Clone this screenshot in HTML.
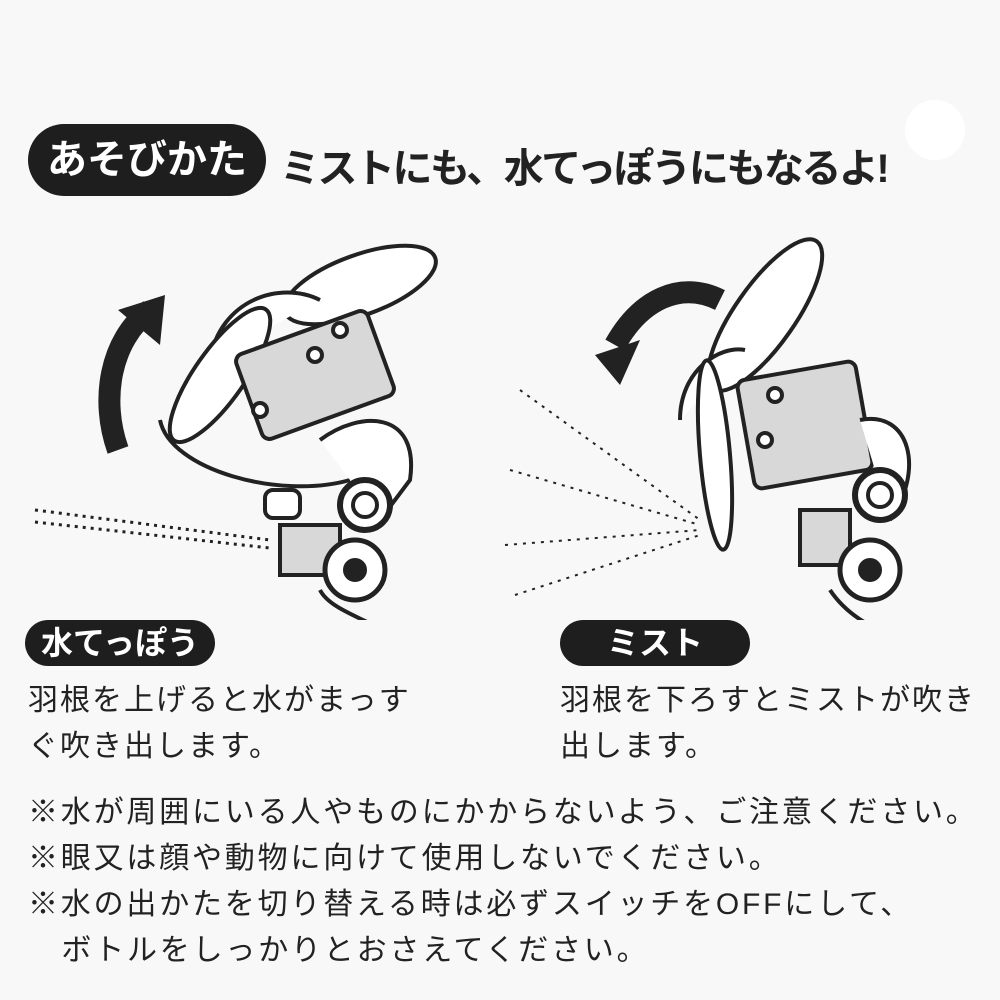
<!DOCTYPE html>
<html><head><meta charset="utf-8"><style>
html,body{margin:0;padding:0;background:#f8f8f8;}
body{width:1000px;height:1000px;position:relative;overflow:hidden;font-family:"Liberation Sans","Noto Sans CJK JP",sans-serif;color:#222;}
.pill{position:absolute;background:#1e1e1e;color:#fff;font-weight:bold;border-radius:40px;text-align:center;}
.t{position:absolute;white-space:nowrap;}
</style></head><body>
<div style="position:absolute;left:905px;top:100px;width:60px;height:60px;border-radius:50%;background:#fff;"></div>
<div class="pill" style="left:28px;top:124px;width:238px;height:72px;line-height:72px;font-size:40px;">あそびかた</div>
<div class="t" style="left:280px;top:136px;font-size:40px;font-weight:bold;letter-spacing:-2.5px;">ミストにも、水てっぽうにもなるよ!</div>

<svg width="1000" height="620" style="position:absolute;left:0;top:0" fill="none" stroke="#222" stroke-width="4">
<path d="M118 450 C100 400 110 340 150 310" stroke-width="22"/>
<polygon points="118,310 165,295 160,345" fill="#222" stroke="none"/>
<g stroke-dasharray="3 5" stroke-width="3"><line x1="35" y1="510" x2="270" y2="540"/><line x1="35" y1="522" x2="270" y2="548"/></g>
<ellipse cx="360" cy="285" rx="80" ry="30" transform="rotate(-20 360 285)" fill="#fff"/>
<path d="M210 360 C220 300 280 280 320 300" fill="#fff"/>
<ellipse cx="220" cy="375" rx="25" ry="80" transform="rotate(35 220 375)" fill="#fff"/>
<path d="M160 420 C170 470 280 500 350 480" />
<rect x="245" y="330" width="140" height="90" rx="8" transform="rotate(-20 315 375)" fill="#d8d8d8"/>
<circle cx="315" cy="355" r="7" fill="#fff"/><circle cx="340" cy="330" r="7" fill="#fff"/><circle cx="260" cy="410" r="7" fill="#fff"/>
<path d="M320 440 C360 410 420 410 410 480 L380 520" fill="#fff"/>
<circle cx="365" cy="505" r="25" fill="#fff" stroke-width="6"/><circle cx="365" cy="505" r="12"/>
<rect x="280" y="525" width="60" height="50" fill="#d8d8d8"/>
<circle cx="355" cy="570" r="30" fill="#fff" stroke-width="5"/><circle cx="355" cy="570" r="10" fill="#222"/>
<rect x="265" y="490" width="35" height="28" rx="8" fill="#fff"/>
<path d="M320 590 C330 610 370 620 380 630"/>
<path d="M720 300 C680 280 640 300 615 345" stroke-width="22"/>
<polygon points="595,355 640,340 620,385" fill="#222" stroke="none"/>
<g stroke-dasharray="3 6" stroke-width="2"><line x1="520" y1="390" x2="700" y2="520"/><line x1="510" y1="470" x2="700" y2="525"/><line x1="505" y1="545" x2="700" y2="530"/><line x1="515" y1="595" x2="700" y2="535"/></g>
<ellipse cx="765" cy="315" rx="30" ry="90" transform="rotate(35 765 315)" fill="#fff"/>
<path d="M680 420 C680 370 720 345 745 350" fill="#fff"/>
<ellipse cx="715" cy="455" rx="15" ry="95" transform="rotate(-5 715 455)" fill="#fff"/>
<rect x="745" y="370" width="120" height="110" rx="8" transform="rotate(-10 805 425)" fill="#d8d8d8"/>
<circle cx="775" cy="395" r="7" fill="#fff"/><circle cx="765" cy="440" r="7" fill="#fff"/>
<path d="M860 420 C910 410 925 470 890 520" fill="#fff"/>
<circle cx="880" cy="495" r="25" fill="#fff" stroke-width="6"/><circle cx="880" cy="495" r="12"/>
<rect x="800" y="510" width="50" height="55" fill="#d8d8d8"/>
<circle cx="870" cy="570" r="30" fill="#fff" stroke-width="5"/><circle cx="870" cy="570" r="10" fill="#222"/>
<path d="M830 590 C850 620 880 630 900 640"/>
</svg>

<div class="pill" style="left:25px;top:620px;width:190px;height:46px;line-height:46px;font-size:32px;">水てっぽう</div>
<div class="pill" style="left:560px;top:620px;width:190px;height:46px;line-height:46px;font-size:32px;">ミスト</div>
<div class="t" style="left:28px;top:678px;font-size:30px;line-height:46px;letter-spacing:2px;">羽根を上げると水がまっす<br>ぐ吹き出します。</div>
<div class="t" style="left:560px;top:678px;font-size:30px;line-height:46px;letter-spacing:2px;">羽根を下ろすとミストが吹き<br>出します。</div>
<div class="t" style="left:28px;top:790px;font-size:30px;line-height:46px;letter-spacing:2.8px;">※水が周囲にいる人やものにかからないよう、ご注意ください。<br>※眼又は顔や動物に向けて使用しないでください。<br>※水の出かたを切り替える時は必ずスイッチをOFFにして、<br>&nbsp;&nbsp;&nbsp;ボトルをしっかりとおさえてください。</div>
</body></html>
